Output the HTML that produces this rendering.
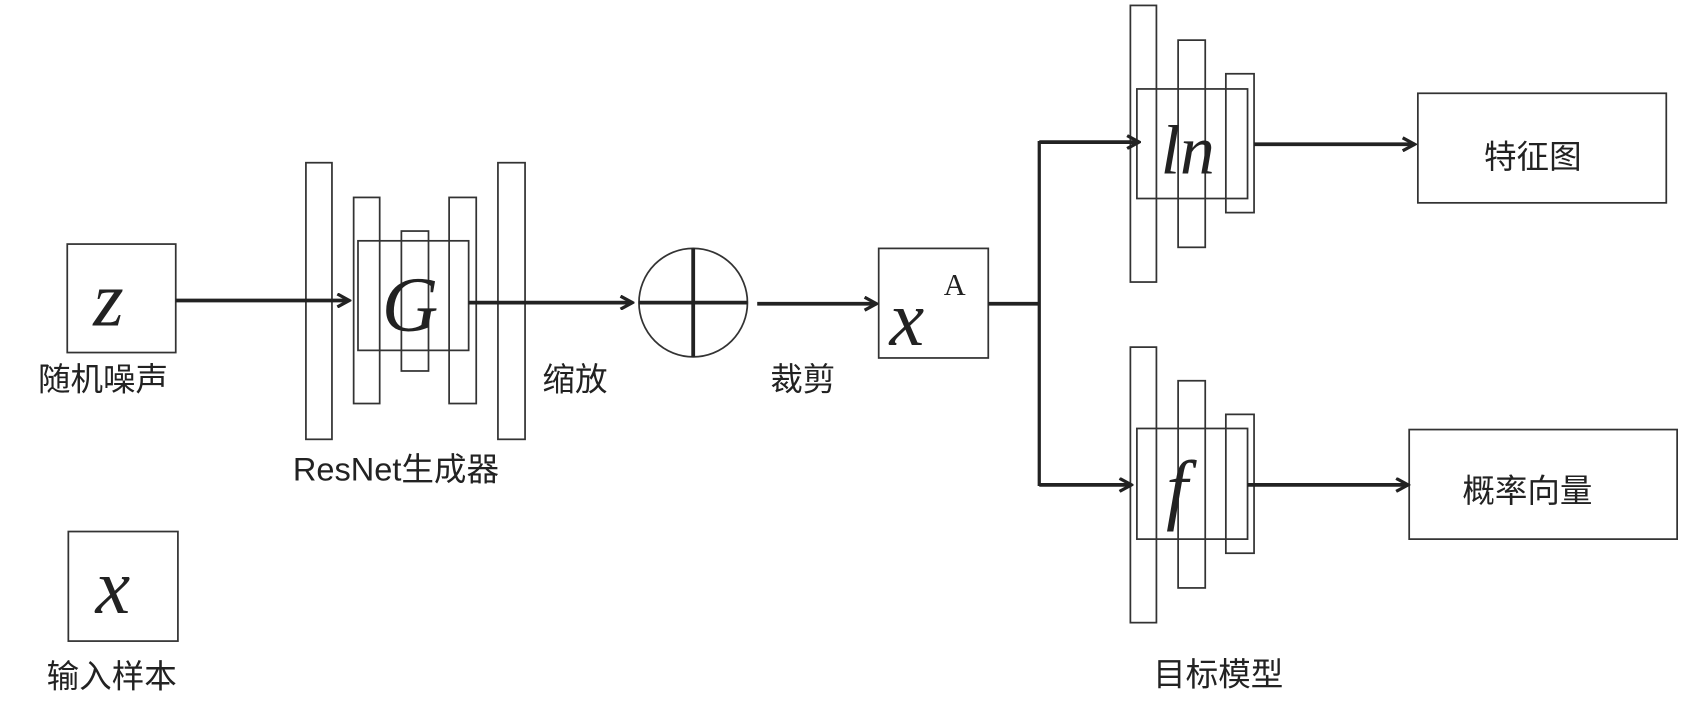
<!DOCTYPE html>
<html><head><meta charset="utf-8"><style>
html,body{margin:0;padding:0;background:#fff;}
svg{display:block;}
.cn{font-family:"Liberation Sans","Noto Sans CJK SC",sans-serif;font-size:30px;fill:#222;}
.it{font-family:"Liberation Serif",serif;font-style:italic;fill:#222;}
</style></head><body>
<svg width="1701" height="704" viewBox="0 0 1568 649" preserveAspectRatio="none" xmlns="http://www.w3.org/2000/svg">
<defs><marker id="a" markerWidth="14" markerHeight="14" refX="12" refY="7" orient="auto" markerUnits="userSpaceOnUse"><path d="M1,1 L12,7 L1,13" fill="none" stroke="#222" stroke-width="3"/></marker></defs>
<g fill="#fff" stroke="#333" stroke-width="1.6">
<rect x="62" y="225" width="100" height="100"/>
<rect x="63" y="490" width="101" height="101"/>
<rect x="282" y="150" width="24" height="255"/>
<rect x="326" y="182" width="24" height="190"/>
<rect x="414" y="182" width="25" height="190"/>
<rect x="459" y="150" width="25" height="255"/>
<rect x="370" y="213" width="25" height="129"/>
<rect x="330" y="222" width="102" height="101" fill="none"/>
<rect x="810" y="229" width="101" height="101"/>
<rect x="1042" y="5" width="24" height="255"/>
<rect x="1086" y="37" width="25" height="191"/>
<rect x="1130" y="68" width="26" height="128"/>
<rect x="1048" y="82" width="102" height="101" fill="none"/>
<rect x="1042" y="320" width="24" height="254"/>
<rect x="1086" y="351" width="25" height="191"/>
<rect x="1130" y="382" width="26" height="128"/>
<rect x="1048" y="395" width="102" height="102" fill="none"/>
<rect x="1307" y="86" width="229" height="101"/>
<rect x="1299" y="396" width="247" height="101"/>
<circle cx="639" cy="279" r="50"/>
</g>
<g stroke="#222" stroke-width="3.5" fill="none">
<line x1="639" y1="229" x2="639" y2="329"/>
<line x1="589" y1="279" x2="689" y2="279"/>
<line x1="162" y1="277" x2="322" y2="277" marker-end="url(#a)"/>
<line x1="432" y1="279" x2="583" y2="279" marker-end="url(#a)"/>
<line x1="698" y1="280" x2="808" y2="280" marker-end="url(#a)"/>
<polyline points="911,280 958,280"/>
<line x1="958" y1="130" x2="958" y2="448" stroke-width="3"/>
<line x1="958" y1="131" x2="1050" y2="131" marker-end="url(#a)"/>
<line x1="958" y1="447" x2="1043" y2="447" marker-end="url(#a)"/>
<line x1="1156" y1="133" x2="1304" y2="133" marker-end="url(#a)"/>
<line x1="1150" y1="447" x2="1298" y2="447" marker-end="url(#a)"/>
</g>
<text class="it" x="86" y="300" font-size="72">z</text>
<text class="it" x="88" y="565" font-size="72">x</text>
<text class="it" x="352" y="305" font-size="72">G</text>
<text class="it" x="820" y="318" font-size="72">x</text>
<text x="870" y="272" font-family="Liberation Serif,serif" font-size="28" fill="#222">A</text>
<text class="it" x="1070" y="160" font-size="64">ln</text>
<text class="it" x="1075" y="475" font-size="72">f</text>
<text class="cn" x="35" y="360">随机噪声</text>
<text class="cn" x="270" y="443" font-size="28">ResNet生成器</text>
<text class="cn" x="500" y="360">缩放</text>
<text class="cn" x="710" y="360">裁剪</text>
<text class="cn" x="1368" y="155">特征图</text>
<text class="cn" x="1348" y="463">概率向量</text>
<text class="cn" x="43" y="634">输入样本</text>
<text class="cn" x="1063" y="632">目标模型</text>
</svg>
</body></html>
